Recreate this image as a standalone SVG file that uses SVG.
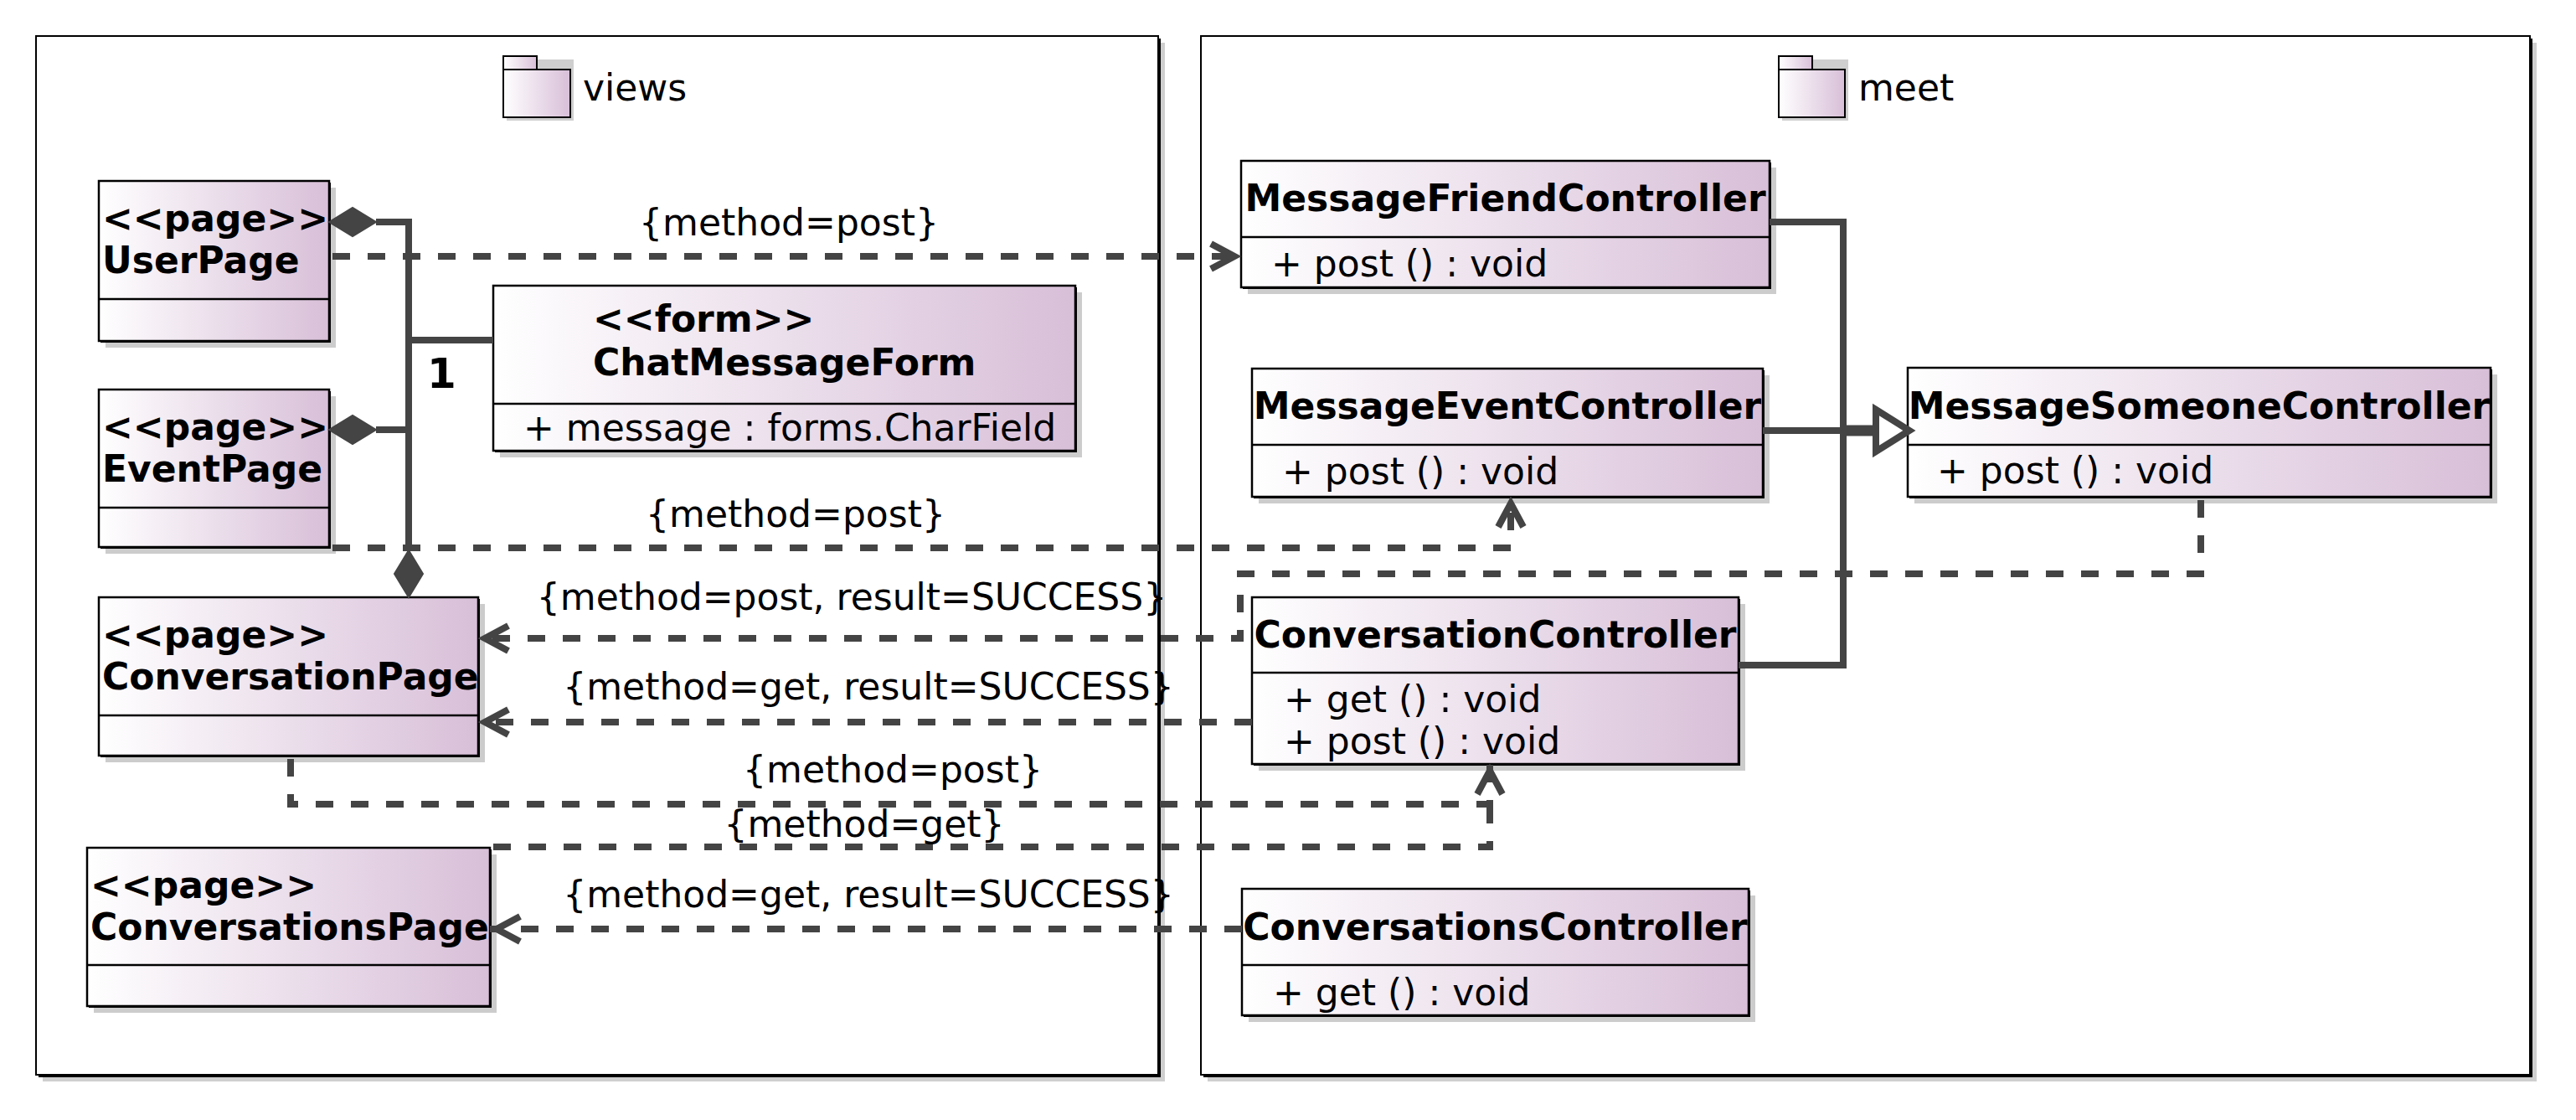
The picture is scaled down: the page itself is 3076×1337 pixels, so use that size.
<svg xmlns="http://www.w3.org/2000/svg" width="3076" height="1337" viewBox="0 0 3076 1337">
<defs>
<linearGradient id="g" x1="0" y1="0" x2="1" y2="0">
<stop offset="0" stop-color="#FFFFFF"/>
<stop offset="1" stop-color="#D8BFD8"/>
</linearGradient>
<marker id="open" markerUnits="userSpaceOnUse" markerWidth="80" markerHeight="80" refX="0" refY="0" orient="auto" overflow="visible">
<path d="M-36,-15 L-8,0 L-36,15" fill="none" stroke="#444444" stroke-width="8" stroke-linejoin="miter"/>
</marker>
</defs>
<style>
.pkg{fill:#FFFFFF;stroke:#000;stroke-width:2}
.psh{fill:#CFCFCF}
.pdk{fill:#000}
.box{fill:url(#g);stroke:#000;stroke-width:2.5}
.sh{fill:#CCCCCC}
.dk{fill:#000}
.div{stroke:#000;stroke-width:2.5}
.nm{font-family:"DejaVu Sans",sans-serif;font-weight:bold;font-size:44px;fill:#000}
.tx{font-family:"DejaVu Sans",sans-serif;font-size:44px;fill:#000}
.lb{font-family:"DejaVu Sans",sans-serif;font-size:44px;fill:#000;text-anchor:middle}
.c{fill:none;stroke:#444444;stroke-width:8}
.d{fill:none;stroke:#444444;stroke-width:8;stroke-dasharray:21 21;marker-end:url(#open)}
.dn{fill:none;stroke:#444444;stroke-width:8;stroke-dasharray:21 21}
.dia{fill:#444444;stroke:#444444;stroke-width:2}
.tri{fill:#FFFFFF;stroke:#444444;stroke-width:8}
.ico{fill:url(#g);stroke:#000;stroke-width:2}
</style>
<rect width="3076" height="1337" fill="#FFFFFF"/>

<g id="pkg-views">
<rect class="psh" x="51" y="51" width="1340" height="1240"/>
<rect class="pdk" x="46" y="46" width="1340" height="1240"/>
<rect class="pkg" x="43" y="43" width="1340" height="1240"/>
<rect class="psh" x="605" y="71" width="80" height="73"/>
<rect class="ico" x="601" y="67" width="40" height="16"/>
<rect class="ico" x="601" y="83" width="80" height="57"/>
<text class="tx" x="696" y="120">views</text>
</g>

<g id="pkg-meet">
<rect class="psh" x="1442" y="51" width="1587" height="1240"/>
<rect class="pdk" x="1437" y="46" width="1587" height="1240"/>
<rect class="pkg" x="1434" y="43" width="1587" height="1240"/>
<rect class="psh" x="2128" y="71" width="79" height="73"/>
<rect class="ico" x="2124" y="67" width="40" height="16"/>
<rect class="ico" x="2124" y="83" width="79" height="57"/>
<text class="tx" x="2219" y="120">meet</text>
</g>

<g id="UserPage">
<rect class="sh" x="126" y="224" width="275" height="191"/>
<rect class="dk" x="120" y="218" width="275" height="191"/>
<rect class="box" x="118" y="216" width="275" height="191"/>
<line class="div" x1="118" y1="357" x2="393" y2="357"/>
<text class="nm" x="122" y="276">&lt;&lt;page&gt;&gt;</text>
<text class="nm" x="122" y="326">UserPage</text>
</g>

<g id="EventPage">
<rect class="sh" x="126" y="473" width="275" height="188"/>
<rect class="dk" x="120" y="467" width="275" height="188"/>
<rect class="box" x="118" y="465" width="275" height="188"/>
<line class="div" x1="118" y1="606" x2="393" y2="606"/>
<text class="nm" x="122" y="525">&lt;&lt;page&gt;&gt;</text>
<text class="nm" x="122" y="575">EventPage</text>
</g>

<g id="ConversationPage">
<rect class="sh" x="126" y="721" width="453" height="189"/>
<rect class="dk" x="120" y="715" width="453" height="189"/>
<rect class="box" x="118" y="713" width="453" height="189"/>
<line class="div" x1="118" y1="854" x2="571" y2="854"/>
<text class="nm" x="122" y="773">&lt;&lt;page&gt;&gt;</text>
<text class="nm" x="122" y="823">ConversationPage</text>
</g>

<g id="ConversationsPage">
<rect class="sh" x="112" y="1020" width="481" height="189"/>
<rect class="dk" x="106" y="1014" width="481" height="189"/>
<rect class="box" x="104" y="1012" width="481" height="189"/>
<line class="div" x1="104" y1="1152" x2="585" y2="1152"/>
<text class="nm" x="108" y="1072">&lt;&lt;page&gt;&gt;</text>
<text class="nm" x="108" y="1122">ConversationsPage</text>
</g>

<g id="ChatMessageForm">
<rect class="sh" x="597" y="349" width="695" height="197"/>
<rect class="dk" x="591" y="343" width="695" height="197"/>
<rect class="box" x="589" y="341" width="695" height="197"/>
<line class="div" x1="589" y1="482" x2="1284" y2="482"/>
<text class="nm" x="708" y="396">&lt;&lt;form&gt;&gt;</text>
<text class="nm" x="708" y="448">ChatMessageForm</text>
<text class="tx" x="625" y="526">+ message : forms.CharField</text>
</g>

<g id="MessageFriendController">
<rect class="sh" x="1490" y="200" width="631" height="151"/>
<rect class="dk" x="1484" y="194" width="631" height="151"/>
<rect class="box" x="1482" y="192" width="631" height="151"/>
<line class="div" x1="1482" y1="283" x2="2113" y2="283"/>
<text class="nm" x="1797.5" y="252" text-anchor="middle">MessageFriendController</text>
<text class="tx" x="1518" y="330">+ post () : void</text>
</g>

<g id="MessageEventController">
<rect class="sh" x="1503" y="448" width="610" height="153"/>
<rect class="dk" x="1497" y="442" width="610" height="153"/>
<rect class="box" x="1495" y="440" width="610" height="153"/>
<line class="div" x1="1495" y1="531" x2="2105" y2="531"/>
<text class="nm" x="1800" y="500" text-anchor="middle">MessageEventController</text>
<text class="tx" x="1531" y="578">+ post () : void</text>
</g>

<g id="MessageSomeoneController">
<rect class="sh" x="2286" y="447" width="696" height="154"/>
<rect class="dk" x="2280" y="441" width="696" height="154"/>
<rect class="box" x="2278" y="439" width="696" height="154"/>
<line class="div" x1="2278" y1="531" x2="2974" y2="531"/>
<text class="nm" x="2626" y="500" text-anchor="middle">MessageSomeoneController</text>
<text class="tx" x="2313" y="577">+ post () : void</text>
</g>

<g id="ConversationController">
<rect class="sh" x="1503" y="721" width="581" height="199"/>
<rect class="dk" x="1497" y="715" width="581" height="199"/>
<rect class="box" x="1495" y="713" width="581" height="199"/>
<line class="div" x1="1495" y1="803" x2="2076" y2="803"/>
<text class="nm" x="1785.5" y="773" text-anchor="middle">ConversationController</text>
<text class="tx" x="1533" y="850">+ get () : void</text>
<text class="tx" x="1533" y="900">+ post () : void</text>
</g>

<g id="ConversationsController">
<rect class="sh" x="1491" y="1069" width="605" height="151"/>
<rect class="dk" x="1485" y="1063" width="605" height="151"/>
<rect class="box" x="1483" y="1061" width="605" height="151"/>
<line class="div" x1="1483" y1="1152" x2="2088" y2="1152"/>
<text class="nm" x="1785.5" y="1122" text-anchor="middle">ConversationsController</text>
<text class="tx" x="1520" y="1200">+ get () : void</text>
</g>

<g id="connectors">
<!-- compositions to ChatMessageForm -->
<path class="c" d="M449,265 H488 V657"/>
<path class="c" d="M449,513 H488"/>
<path class="c" d="M488,406 H589"/>
<polygon class="dia" points="393,265 421,248 449,265 421,282"/>
<polygon class="dia" points="393,513 421,496 449,513 421,530"/>
<polygon class="dia" points="488,713 471,685 488,657 505,685"/>
<text class="nm" x="510" y="463" style="font-size:50px">1</text>

<!-- generalizations to MessageSomeoneController -->
<path class="c" d="M2113,265 H2201 V514 H2240"/>
<path class="c" d="M2105,514 H2240"/>
<path class="c" d="M2076,794 H2201 V514"/>
<path class="c" d="M2201,514 H2240" style="stroke-width:13"/>
<polygon class="tri" points="2240,489 2280,514 2240,539"/>

<!-- dependencies -->
<path class="d" d="M397,306 H1482"/>
<text class="lb" x="942" y="281">{method=post}</text>

<path class="d" d="M397,654 H1804 V593"/>
<text class="lb" x="950" y="629">{method=post}</text>

<path class="d" d="M2628,597 V685 H1481 V762 H571"/>
<text class="lb" x="1017" y="728">{method=post, result=SUCCESS}</text>

<path class="d" d="M1495,862 H571"/>
<text class="lb" x="1037" y="835">{method=get, result=SUCCESS}</text>

<path class="d" d="M347,906 V960 H1779 V912"/>
<text class="lb" x="1066" y="934">{method=post}</text>

<path class="dn" d="M589,1011 H1779 V960"/>
<text class="lb" x="1032" y="999">{method=get}</text>

<path class="d" d="M1483,1109 H585"/>
<text class="lb" x="1037" y="1083">{method=get, result=SUCCESS}</text>
</g>
</svg>
